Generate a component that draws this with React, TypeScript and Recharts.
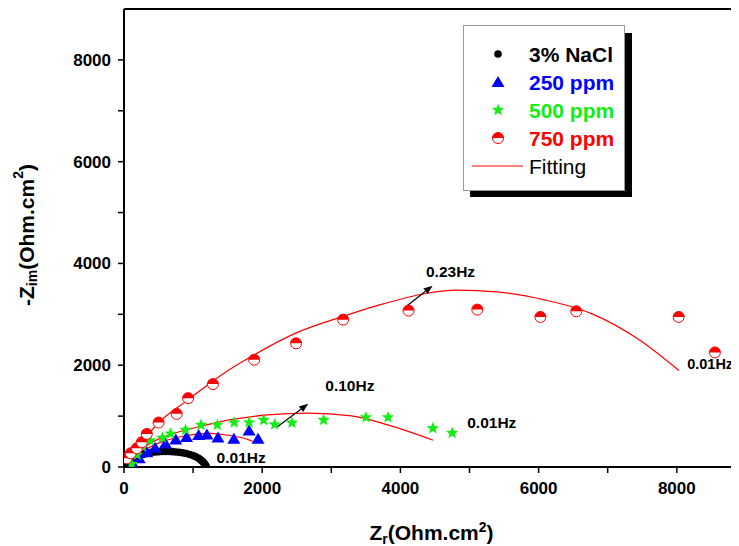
import React from "react"
import {
  ComposedChart,
  Scatter,
  Line,
  XAxis,
  YAxis,
  Legend,
  ReferenceLine,
  ReferenceDot,
} from "recharts"

const FONT = "'Liberation Sans', Arial, Helvetica, sans-serif"

// Zr / -Zim pairs (Ohm.cm2)
const nacl: [number, number][] = [
  [60, 20], [80, 60], [100, 95], [130, 130], [160, 165], [190, 195], [230, 220],
  [270, 245], [310, 262], [350, 275], [400, 288], [450, 296], [500, 302], [550, 305],
  [600, 306], [650, 305], [700, 302], [750, 296], [800, 288], [850, 278], [900, 264],
  [950, 246], [1000, 224], [1040, 200], [1080, 170], [1110, 140], [1140, 105],
  [1160, 75], [1175, 45], [1185, 20], [1190, 5],
]
const ppm250: [number, number][] = [
  [130, 60], [220, 170], [330, 290], [450, 380], [600, 460], [750, 540], [905, 590],
  [1080, 630], [1200, 640], [1360, 580], [1590, 555], [1810, 715], [1940, 555],
]
const ppm500: [number, number][] = [
  [110, 60], [190, 240], [270, 400], [378, 520], [555, 575], [675, 655], [890, 730],
  [1115, 825], [1350, 825], [1593, 875], [1811, 875], [2020, 925], [2180, 835],
  [2430, 868], [2888, 925], [3501, 975], [3820, 975], [4470, 760], [4749, 667],
]
const ppm750: [number, number][] = [
  [39, 171], [97, 270], [185, 368], [257, 486], [330, 650], [500, 873], [762, 1044],
  [928, 1353], [1287, 1629], [1884, 2108], [2490, 2430], [3171, 2896], [4118, 3073],
  [5113, 3093], [6026, 2949], [6545, 3059], [8027, 2949], [8551, 2252],
]

// fitted curves, sampled off the figure
const fitNacl: [number, number][] = [
  [0, 0], [150, 130], [300, 220], [450, 268], [600, 285], [750, 280], [900, 255],
  [1050, 200], [1150, 140], [1220, 50],
]
const fit250: [number, number][] = [
  [0, 0], [200, 250], [500, 470], [800, 590], [1050, 645], [1250, 660], [1500, 625],
  [1750, 560], [1930, 466],
]
const fit500: [number, number][] = [
  [0, 0], [150, 220], [400, 480], [700, 650], [1107, 800], [1593, 940], [2078, 1024],
  [2661, 1057], [3292, 1005], [3817, 827], [4475, 526],
]
const fit750: [number, number][] = [
  [0, 0], [100, 200], [250, 470], [500, 870], [940, 1334], [1400, 1800], [1866, 2189],
  [2500, 2640], [3171, 2960], [3685, 3180], [4372, 3410], [4818, 3475], [5401, 3440],
  [6088, 3284], [6774, 3010], [7461, 2496], [8031, 1895],
]

const axisTicks = [0, 1000, 2000, 3000, 4000, 5000, 6000, 7000, 8000]

const freqLabels = [
  { x: 1340, y: 185, text: "0.01Hz" },
  { x: 2913, y: 1611, text: "0.10Hz" },
  { x: 4967, y: 884, text: "0.01Hz" },
  { x: 4370, y: 3837, text: "0.23Hz" },
  { x: 8150, y: 2033, text: "0.01Hz" },
]
const arrows = [
  { from: [2214, 788], to: [2666, 1241] },
  { from: [4078, 3149], to: [4466, 3562] },
]

const toPts = (arr: [number, number][]) => arr.map(([x, y]) => ({ x, y }))

const BLUE = "#0000ff"
const GREEN = "#11ee11"
const RED = "#ff0000"

const Dot = (p: any) => <circle cx={p.cx} cy={p.cy} r={3.8} fill="#000" />
const Tri = (p: any) => {
  const { cx, cy } = p
  return <polygon points={`${cx},${cy - 6} ${cx - 6.5},${cy + 5} ${cx + 6.5},${cy + 5}`} fill={BLUE} />
}
const starPath = (cx: number, cy: number, ro: number) => {
  const ri = ro * 0.42
  let d = ""
  for (let i = 0; i < 10; i++) {
    const r = i % 2 === 0 ? ro : ri
    const a = -Math.PI / 2 + (i * Math.PI) / 5
    d += (i === 0 ? "M" : "L") + (cx + r * Math.cos(a)).toFixed(2) + "," + (cy + r * Math.sin(a)).toFixed(2)
  }
  return d + "Z"
}
const Star = (p: any) => <path d={starPath(p.cx, p.cy, 6.5)} fill={GREEN} />
const Half = (p: any) => {
  const { cx, cy } = p
  const r = 5.5
  return (
    <g>
      <circle cx={cx} cy={cy} r={r} fill="#fff" stroke={RED} strokeWidth={1} />
      <path d={`M${cx - r},${cy} A${r},${r} 0 0 1 ${cx + r},${cy} Z`} fill={RED} />
    </g>
  )
}

const Arrow = (p: any) => {
  const { x1, y1, x2, y2 } = p
  const a = Math.atan2(y2 - y1, x2 - x1)
  const L = 9
  const W = 3.5
  const bx = x2 - L * Math.cos(a)
  const by = y2 - L * Math.sin(a)
  return (
    <g>
      <line x1={x1} y1={y1} x2={bx} y2={by} stroke="#000" strokeWidth={1.2} />
      <polygon
        points={`${x2},${y2} ${bx + W * Math.sin(a)},${by - W * Math.cos(a)} ${bx - W * Math.sin(a)},${by + W * Math.cos(a)}`}
        fill="#000"
      />
    </g>
  )
}

const legendRows = [
  { label: "3% NaCl", color: "#000", Shape: Dot },
  { label: "250 ppm", color: BLUE, Shape: Tri },
  { label: "500 ppm", color: GREEN, Shape: Star },
  { label: "750 ppm", color: RED, Shape: Half },
]

const LegendBox = () => (
  <svg width={172} height={176} style={{ display: "block" }}>
    <rect x={162} y={8} width={7} height={164} fill="#000" />
    <rect x={7} y={166} width={162} height={6} fill="#000" />
    <rect x={0.5} y={0.5} width={161} height={165} fill="#fff" stroke="#999" strokeWidth={1} />
    {legendRows.map((r, i) => (
      <g key={r.label}>
        <r.Shape cx={35} cy={29 + i * 28} />
        <text
          x={66}
          y={29 + i * 28}
          dominantBaseline="central"
          fontFamily={FONT}
          fontWeight="bold"
          fontSize={21}
          fill={r.color}
        >
          {r.label}
        </text>
      </g>
    ))}
    <line x1={9} y1={141} x2={60} y2={141} stroke={RED} strokeWidth={1.2} />
    <text x={66} y={141} dominantBaseline="central" fontFamily={FONT} fontSize={21} fill="#000">
      Fitting
    </text>
  </svg>
)

const YTitle = (props: any) => {
  const vb = props.viewBox
  const x = vb.x + 18
  const y = vb.y + vb.height / 2 - 3
  return (
    <text
      x={x}
      y={y}
      transform={`rotate(-90 ${x} ${y})`}
      textAnchor="middle"
      dominantBaseline="central"
      fontFamily={FONT}
      fontWeight="bold"
      fontSize={21}
      fill="#000"
    >
      -Z
      <tspan dy={6} fontSize={14}>im</tspan>
      <tspan dy={-6}>(Ohm.cm</tspan>
      <tspan dy={-8} fontSize={14}>2</tspan>
      <tspan dy={8}>)</tspan>
    </text>
  )
}

const XTitle = (props: any) => {
  const vb = props.viewBox
  return (
    <text
      x={vb.x + vb.width / 2}
      y={vb.y + 73}
      textAnchor="middle"
      fontFamily={FONT}
      fontWeight="bold"
      fontSize={21}
      fill="#000"
    >
      Z
      <tspan dy={4} fontSize={14}>r</tspan>
      <tspan dy={-4}>(Ohm.cm</tspan>
      <tspan dy={-8} fontSize={14}>2</tspan>
      <tspan dy={8}>)</tspan>
    </text>
  )
}

const tickFmt = (v: number) => (v % 2000 === 0 ? String(v) : "")
const tickStyle = { fontFamily: FONT, fontWeight: "bold", fontSize: 17, fill: "#000" }

export default function App() {
  return (
    <>
      <style>{"html,body{overflow:hidden}"}</style>
      <ComposedChart width={731} height={538} margin={{ top: 1, right: 0, bottom: 8, left: 0 }}>
        <XAxis
          type="number"
          dataKey="x"
          domain={[0, 8900]}
          ticks={axisTicks}
          tickFormatter={tickFmt}
          allowDataOverflow
          height={71}
          axisLine={{ stroke: "#000", strokeWidth: 2 }}
          tickLine={{ stroke: "#000", strokeWidth: 1.5 }}
          tickSize={6}
          tickMargin={9}
          tick={tickStyle}
          label={{ content: XTitle }}
        />
        <YAxis
          type="number"
          dataKey="y"
          domain={[0, 9000]}
          ticks={axisTicks}
          tickFormatter={tickFmt}
          allowDataOverflow
          width={116}
          axisLine={{ stroke: "#000", strokeWidth: 2 }}
          tickLine={{ stroke: "#000", strokeWidth: 1.5 }}
          tickSize={6}
          tickMargin={7}
          tick={tickStyle}
          label={{ content: YTitle }}
        />
        <ReferenceLine y={9000} stroke="#000" strokeWidth={2} />
        <Scatter data={toPts(nacl)} shape={Dot} isAnimationActive={false} />
        <Scatter data={toPts(ppm250)} shape={Tri} isAnimationActive={false} />
        <Scatter data={toPts(ppm500)} shape={Star} isAnimationActive={false} />
        <Scatter data={toPts(ppm750)} shape={Half} isAnimationActive={false} />
        {[fitNacl, fit250, fit500, fit750].map((f, i) => (
          <Line
            key={i}
            data={toPts(f)}
            dataKey="y"
            type="monotone"
            stroke={RED}
            strokeWidth={1.2}
            dot={false}
            activeDot={false}
            isAnimationActive={false}
          />
        ))}
        {arrows.map((a, i) => (
          <ReferenceLine
            key={"a" + i}
            segment={[
              { x: a.from[0], y: a.from[1] },
              { x: a.to[0], y: a.to[1] },
            ]}
            shape={Arrow}
            ifOverflow="visible"
          />
        ))}
        {freqLabels.map((l, i) => (
          <ReferenceDot
            key={"l" + i}
            x={l.x}
            y={l.y}
            ifOverflow="visible"
            shape={(p: any) => (
              <text
                x={p.cx}
                y={p.cy}
                dominantBaseline="central"
                fontFamily={FONT}
                fontWeight="bold"
                fontSize={i === 4 ? 14.5 : 15.5}
                fill="#000"
              >
                {l.text}
              </text>
            )}
          />
        ))}
        <Legend
          layout="horizontal"
          verticalAlign="middle"
          align="center"
          content={() => <LegendBox />}
          wrapperStyle={{ position: "absolute", left: 455, top: 17, width: 172, height: 176 }}
        />
      </ComposedChart>
    </>
  )
}
